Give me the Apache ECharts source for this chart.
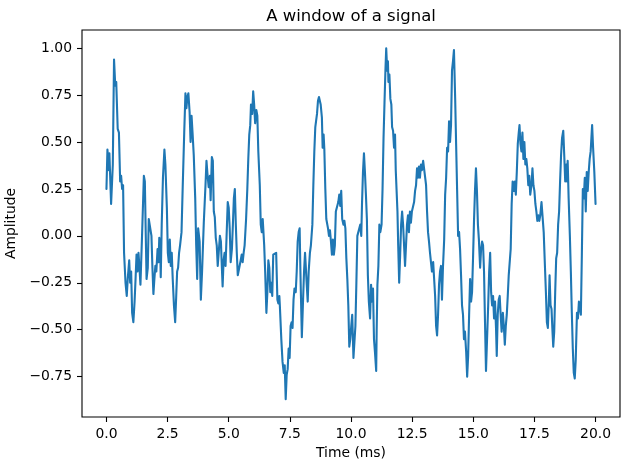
<!DOCTYPE html>
<html>
<head>
	<meta charset=utf-8>
	<title>A window of a signal</title>
	<script src="https://cdn.jsdelivr.net/npm/echarts@6.0.0/dist/echarts.min.js"></script>
	<style>
		html, body { margin: 0; padding: 0; background: #fff; }
		#main { width: 630px; height: 470px; }
	</style>
</head>
<body>
<div id="main"></div>
<script type="text/javascript">
// time of each traced vertex (ms)
var timeMs = [
	0.00, 0.04, 0.10, 0.12, 0.19, 0.26, 0.31, 0.36, 0.40, 0.46, 0.51, 0.56, 0.60, 0.64, 0.68, 0.72,
	0.78, 0.83, 0.87, 0.93, 0.97, 1.01, 1.05, 1.10, 1.15, 1.19, 1.23, 1.27, 1.31, 1.35, 1.39, 1.46,
	1.53, 1.57, 1.60, 1.64, 1.69, 1.73, 1.77, 1.84, 1.88, 1.92, 1.96, 2.00, 2.04, 2.09, 2.13, 2.16,
	2.20, 2.22, 2.26, 2.31, 2.37, 2.41, 2.47, 2.51, 2.55, 2.59, 2.63, 2.67, 2.71, 2.76, 2.81, 2.85,
	2.89, 2.93, 2.97, 3.01, 3.07, 3.12, 3.18, 3.23, 3.27, 3.31, 3.35, 3.40, 3.44, 3.48, 3.52, 3.57,
	3.63, 3.67, 3.71, 3.75, 3.81, 3.86, 3.91, 3.98, 4.05, 4.09, 4.13, 4.18, 4.23, 4.26, 4.31, 4.35,
	4.39, 4.43, 4.47, 4.51, 4.55, 4.59, 4.64, 4.68, 4.72, 4.75, 4.79, 4.83, 4.87, 4.91, 4.96, 5.00,
	5.04, 5.08, 5.13, 5.17, 5.21, 5.25, 5.29, 5.33, 5.37, 5.41, 5.45, 5.49, 5.53, 5.57, 5.61, 5.65,
	5.71, 5.76, 5.80, 5.84, 5.88, 5.91, 5.96, 6.00, 6.04, 6.08, 6.13, 6.17, 6.21, 6.27, 6.31, 6.35,
	6.39, 6.45, 6.49, 6.54, 6.58, 6.62, 6.66, 6.70, 6.74, 6.78, 6.82, 6.86, 6.90, 6.94, 6.99, 7.03,
	7.07, 7.09, 7.15, 7.20, 7.25, 7.29, 7.33, 7.37, 7.41, 7.45, 7.49, 7.53, 7.57, 7.61, 7.65, 7.69,
	7.74, 7.78, 7.82, 7.86, 7.90, 7.93, 7.97, 7.99, 8.04, 8.08, 8.12, 8.15, 8.19, 8.23, 8.27, 8.32,
	8.36, 8.42, 8.46, 8.50, 8.54, 8.57, 8.61, 8.65, 8.69, 8.76, 8.81, 8.84, 8.88, 8.91, 8.95, 8.99,
	9.03, 9.06, 9.10, 9.14, 9.18, 9.22, 9.26, 9.30, 9.34, 9.38, 9.43, 9.48, 9.52, 9.56, 9.60, 9.64,
	9.69, 9.73, 9.77, 9.81, 9.85, 9.89, 9.93, 9.97, 10.01, 10.05, 10.10, 10.14, 10.18, 10.22, 10.26, 10.30,
	10.34, 10.38, 10.42, 10.45, 10.49, 10.53, 10.57, 10.61, 10.65, 10.69, 10.73, 10.78, 10.82, 10.86, 10.90, 10.94,
	10.98, 11.03, 11.05, 11.08, 11.12, 11.16, 11.20, 11.25, 11.29, 11.33, 11.37, 11.41, 11.44, 11.48, 11.51, 11.53,
	11.57, 11.61, 11.65, 11.68, 11.72, 11.76, 11.80, 11.83, 11.87, 11.90, 11.93, 11.97, 12.01, 12.05, 12.09, 12.13,
	12.17, 12.21, 12.25, 12.29, 12.33, 12.37, 12.41, 12.45, 12.49, 12.53, 12.58, 12.62, 12.66, 12.70, 12.74, 12.78,
	12.82, 12.86, 12.90, 12.95, 12.99, 13.03, 13.07, 13.11, 13.15, 13.19, 13.23, 13.27, 13.31, 13.36, 13.40, 13.44,
	13.48, 13.52, 13.56, 13.60, 13.64, 13.68, 13.72, 13.76, 13.81, 13.85, 13.89, 13.93, 13.97, 14.01, 14.05, 14.09,
	14.13, 14.17, 14.21, 14.26, 14.30, 14.34, 14.38, 14.42, 14.46, 14.50, 14.54, 14.58, 14.62, 14.66, 14.71, 14.75,
	14.79, 14.83, 14.87, 14.91, 14.95, 14.99, 15.03, 15.07, 15.11, 15.15, 15.19, 15.23, 15.28, 15.32, 15.36, 15.40,
	15.44, 15.48, 15.52, 15.56, 15.61, 15.65, 15.69, 15.73, 15.77, 15.81, 15.85, 15.89, 15.93, 15.96, 16.00, 16.04,
	16.08, 16.12, 16.16, 16.21, 16.25, 16.29, 16.33, 16.37, 16.41, 16.45, 16.49, 16.53, 16.57, 16.61, 16.66, 16.70,
	16.74, 16.78, 16.82, 16.86, 16.89, 16.93, 16.97, 17.01, 17.05, 17.09, 17.13, 17.17, 17.21, 17.25, 17.29, 17.33,
	17.38, 17.42, 17.46, 17.50, 17.54, 17.58, 17.62, 17.66, 17.70, 17.74, 17.79, 17.84, 17.88, 17.93, 17.97, 18.01,
	18.05, 18.09, 18.12, 18.16, 18.20, 18.24, 18.27, 18.31, 18.35, 18.39, 18.43, 18.47, 18.51, 18.55, 18.59, 18.63,
	18.68, 18.72, 18.76, 18.80, 18.83, 18.86, 18.90, 18.95, 18.99, 19.03, 19.07, 19.11, 19.15, 19.19, 19.24, 19.28,
	19.32, 19.36, 19.40, 19.44, 19.48, 19.52, 19.56, 19.60, 19.64, 19.68, 19.72, 19.76, 19.80, 19.86, 19.90, 19.95,
	20.00
];
// amplitude at each vertex
var amplitude = [
	0.25, 0.46, 0.35, 0.44, 0.17, 0.38, 0.94, 0.80, 0.82, 0.57, 0.55, 0.29, 0.32, 0.25, 0.27, -0.09,
	-0.25, -0.32, -0.23, -0.13, -0.25, -0.19, -0.41, -0.46, -0.35, -0.23, -0.10, -0.19, -0.09, -0.17, -0.26, 0.02,
	0.32, 0.29, 0.06, -0.23, -0.17, 0.09, 0.10, 0.00, -0.17, -0.31, -0.23, -0.16, -0.19, -0.07, -0.14, -0.01,
	-0.09, -0.22, 0.06, 0.31, 0.46, 0.38, 0.15, -0.09, -0.14, -0.02, -0.16, -0.09, -0.23, -0.37, -0.46, -0.33,
	-0.19, -0.17, -0.09, -0.05, 0.02, 0.27, 0.55, 0.76, 0.68, 0.74, 0.76, 0.66, 0.50, 0.64, 0.55, 0.43,
	0.20, -0.05, -0.23, 0.04, -0.03, -0.34, -0.19, 0.07, 0.27, 0.40, 0.33, 0.26, 0.32, 0.19, 0.42, 0.40,
	0.13, 0.10, -0.01, -0.05, -0.16, -0.09, 0.00, -0.03, -0.17, -0.27, -0.13, -0.09, -0.16, -0.01, 0.18, 0.15,
	0.04, -0.14, -0.07, 0.06, 0.20, 0.25, 0.06, -0.09, -0.21, -0.22, -0.21, -0.13, -0.10, -0.14, -0.09, -0.05,
	0.09, 0.25, 0.41, 0.54, 0.59, 0.70, 0.65, 0.77, 0.70, 0.60, 0.67, 0.64, 0.45, 0.27, 0.06, 0.02,
	0.09, -0.05, -0.19, -0.41, -0.30, -0.13, -0.17, -0.30, -0.25, -0.32, -0.10, -0.09, -0.10, -0.09, -0.34, -0.36,
	-0.32, -0.37, -0.55, -0.67, -0.73, -0.69, -0.87, -0.74, -0.71, -0.60, -0.65, -0.48, -0.46, -0.49, -0.34, -0.28,
	-0.30, -0.19, -0.03, 0.02, 0.04, -0.18, -0.42, -0.54, -0.34, -0.19, -0.09, -0.16, -0.26, -0.35, -0.19, -0.09,
	-0.05, 0.06, 0.27, 0.45, 0.58, 0.61, 0.65, 0.72, 0.74, 0.70, 0.63, 0.47, 0.54, 0.46, 0.25, 0.09,
	0.10, 0.04, 0.00, 0.03, -0.03, -0.10, -0.02, -0.10, -0.05, 0.13, 0.14, 0.18, 0.22, 0.16, 0.24, 0.09,
	0.06, 0.08, 0.04, -0.12, -0.23, -0.37, -0.59, -0.55, -0.48, -0.42, -0.65, -0.66, -0.48, -0.25, 0.00, 0.01,
	0.00, 0.06, 0.00, 0.17, 0.34, 0.44, 0.34, 0.22, 0.09, -0.21, -0.35, -0.44, -0.26, -0.35, -0.28, -0.55,
	-0.62, -0.72, -0.50, -0.26, -0.16, 0.06, 0.02, 0.06, 0.25, 0.52, 0.71, 0.89, 1.00, 0.88, 0.93, 0.82,
	0.86, 0.73, 0.70, 0.58, 0.56, 0.47, 0.54, 0.35, 0.36, 0.13, -0.05, -0.25, -0.10, 0.06, 0.13, 0.06,
	-0.05, -0.16, -0.05, 0.06, 0.11, 0.02, 0.13, 0.07, 0.13, 0.14, 0.18, 0.24, 0.27, 0.36, 0.31, 0.37,
	0.31, 0.38, 0.35, 0.40, 0.41, 0.40, 0.27, 0.13, 0.02, -0.03, -0.09, -0.10, -0.19, -0.14, -0.23, -0.32,
	-0.48, -0.53, -0.42, -0.26, -0.19, -0.16, -0.34, -0.17, -0.02, 0.22, 0.31, 0.47, 0.45, 0.61, 0.50, 0.59,
	0.88, 0.93, 0.99, 0.73, 0.48, 0.24, 0.00, 0.02, -0.07, -0.21, -0.37, -0.42, -0.55, -0.51, -0.62, -0.75,
	-0.64, -0.42, -0.23, -0.35, -0.30, -0.12, 0.08, 0.24, 0.36, 0.24, 0.06, -0.02, -0.17, -0.07, -0.03, -0.05,
	-0.19, -0.46, -0.72, -0.71, -0.37, -0.19, -0.09, -0.30, -0.37, -0.32, -0.44, -0.35, -0.49, -0.64, -0.42, -0.34,
	-0.32, -0.42, -0.51, -0.41, -0.48, -0.58, -0.48, -0.42, -0.32, -0.21, -0.22, -0.07, 0.17, 0.29, 0.24, 0.29,
	0.22, 0.34, 0.49, 0.55, 0.59, 0.49, 0.45, 0.55, 0.41, 0.50, 0.38, 0.41, 0.36, 0.27, 0.32, 0.22,
	0.27, 0.36, 0.27, 0.24, 0.17, 0.13, 0.08, 0.11, 0.08, 0.11, 0.18, 0.18, 0.02, -0.16, -0.30, -0.46,
	-0.49, -0.35, -0.21, -0.37, -0.39, -0.51, -0.59, -0.51, -0.30, -0.12, -0.09, 0.06, 0.13, 0.29, 0.43, 0.52,
	0.56, 0.43, 0.29, 0.38, 0.29, 0.40, 0.20, 0.00, -0.19, -0.41, -0.60, -0.73, -0.76, -0.66, -0.41, -0.44,
	-0.35, -0.34, -0.42, -0.10, 0.25, 0.20, 0.31, 0.13, 0.34, 0.24, 0.34, 0.41, 0.45, 0.59, 0.47, 0.34,
	0.17
];
var xTicks = [0, 2.5, 5, 7.5, 10, 12.5, 15, 17.5, 20];
var yTicks = [-0.75, -0.5, -0.25, 0, 0.25, 0.5, 0.75, 1.0];

var points = [];
for (var i = 0; i < timeMs.length; i++) {
	points.push([timeMs[i], amplitude[i]]);
}

var font = 'DejaVu Sans';
var myChart = echarts.init(document.getElementById('main'), null, {renderer: 'canvas'});
myChart.setOption({
	animation: false,
	backgroundColor: '#fff',
	textStyle: {fontFamily: font, color: '#000'},
	title: {
		text: 'A window of a signal',
		left: 351,
		top: 8,
		padding: 0,
		textAlign: 'center',
		textStyle: {fontFamily: font, fontSize: 16.5, fontWeight: 'normal', color: '#000'}
	},
	grid: {
		left: 82, right: 10, top: 30, bottom: 53,
		show: true, borderColor: '#000', borderWidth: 1.1,
		outerBoundsMode: 'none'
	},
	xAxis: {
		type: 'value',
		min: -1, max: 21,
		name: 'Time (ms)',
		nameLocation: 'middle',
		nameGap: 28,
		nameTextStyle: {fontFamily: font, fontSize: 13.9, color: '#000'},
		axisLine: {show: false, onZero: false},
		splitLine: {show: false},
		axisTick: {show: true, length: 5, customValues: xTicks, lineStyle: {color: '#000', width: 1.1}},
		axisLabel: {
			customValues: xTicks, margin: 10,
			fontFamily: font, fontSize: 13.9, color: '#000',
			formatter: function (v) { return v.toFixed(1); }
		}
	},
	yAxis: {
		type: 'value',
		min: -0.965, max: 1.097,
		name: 'Amplitude',
		nameLocation: 'middle',
		nameGap: 53,
		nameTextStyle: {fontFamily: font, fontSize: 13.9, color: '#000'},
		axisLine: {show: false, onZero: false},
		splitLine: {show: false},
		axisTick: {show: true, length: 5, customValues: yTicks, lineStyle: {color: '#000', width: 1.1}},
		axisLabel: {
			customValues: yTicks, margin: 10,
			fontFamily: font, fontSize: 13.9, color: '#000',
			formatter: function (v) { return v.toFixed(2).replace('-', '\u2212'); }
		}
	},
	series: [{
		type: 'line',
		data: points,
		showSymbol: false,
		sampling: null,
		lineStyle: {color: '#1f77b4', width: 2.1, join: 'round', cap: 'round'}
	}]
});
</script>
</body>
</html>
